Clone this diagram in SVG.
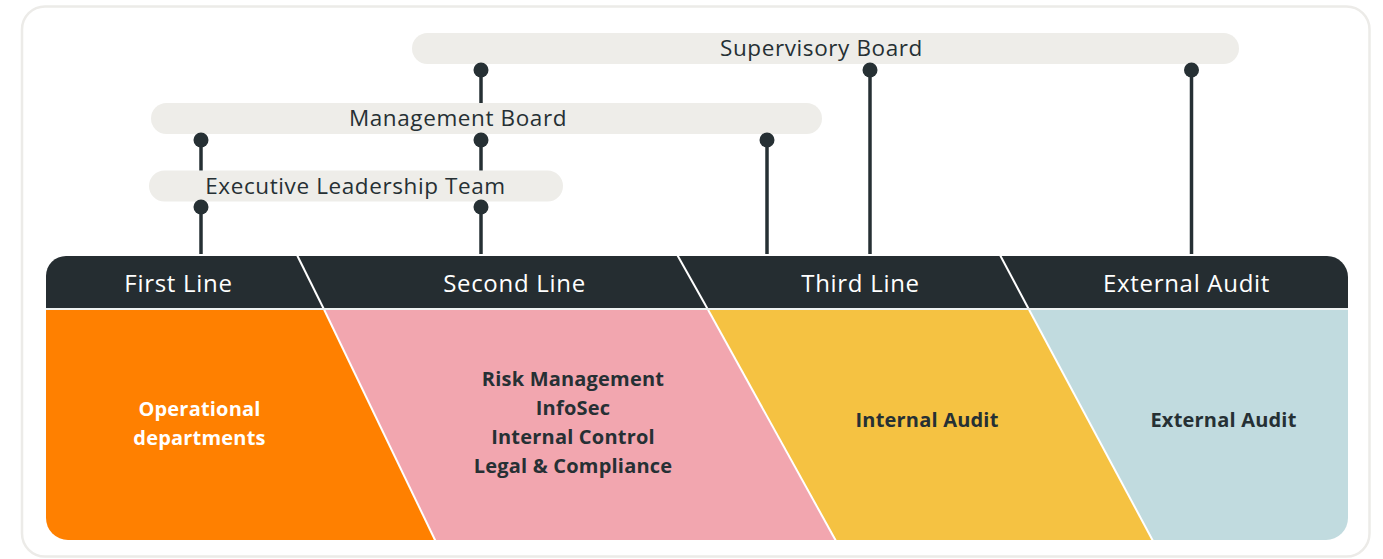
<svg xmlns="http://www.w3.org/2000/svg" width="1383" height="559" viewBox="0 0 1383 559">
<style>
.pill{fill:#eeede9}
.plbl{font-family:"Open Sans","Noto Sans",sans-serif;font-size:22.5px;letter-spacing:0.6px;fill:#263034;text-anchor:middle}
.hlbl{font-family:"Open Sans","Noto Sans",sans-serif;font-size:24px;letter-spacing:0.7px;fill:#ffffff;text-anchor:middle}
.blbl{font-family:"Open Sans","Noto Sans",sans-serif;font-size:20px;font-weight:700;letter-spacing:0.2px;fill:#263034;text-anchor:middle}
.sep{stroke:#ffffff;stroke-width:2;fill:none}
.conn{stroke:#263034;stroke-width:3.5;fill:none;marker-start:url(#dot)}
</style>
<defs>
<marker id="dot" viewBox="-8 -8 16 16" refX="0" refY="0" markerWidth="16" markerHeight="16" markerUnits="userSpaceOnUse" orient="auto">
<circle cx="0" cy="0" r="7.5" fill="#263034"/>
</marker>
<clipPath id="bodyClip">
<path d="M46,310 H1348 V518 A22,22 0 0 1 1326,540 H68 A22,22 0 0 1 46,518 Z"/>
</clipPath>
</defs>
<rect x="22" y="6.5" width="1347.5" height="550" rx="23" fill="#ffffff" stroke="#ecebe8" stroke-width="2.5"/>

<g id="supervisory-board">
<rect class="pill" x="412" y="33" width="827" height="31" rx="15.5"/>
<text class="plbl" x="821.5" y="56">Supervisory Board</text>
</g>
<g id="management-board">
<rect class="pill" x="151" y="103" width="671" height="31" rx="15.5"/>
<text class="plbl" x="458" y="126">Management Board</text>
</g>
<g id="executive-leadership-team">
<rect class="pill" x="149" y="170.5" width="414" height="31" rx="15.5"/>
<text class="plbl" x="355.5" y="193.5">Executive Leadership Team</text>
</g>

<g id="header">
<path d="M46,308 V276 A20,20 0 0 1 66,256 H1327 A21,21 0 0 1 1348,277 V308 Z" fill="#252d31"/>
<text class="hlbl" x="178.5" y="292">First Line</text>
<text class="hlbl" x="514.5" y="292">Second Line</text>
<text class="hlbl" x="860.5" y="292">Third Line</text>
<text class="hlbl" x="1186.5" y="292">External Audit</text>
</g>

<g id="body" clip-path="url(#bodyClip)">
<polygon points="0,310 324.3,310 435.5,540 0,540" fill="#ff8000"/>
<polygon points="324.3,310 708.2,310 836,540 435.5,540" fill="#f2a6af"/>
<polygon points="708.2,310 1029.2,310 1153,540 836,540" fill="#f5c242"/>
<polygon points="1029.2,310 1383,310 1383,540 1153,540" fill="#c1dbdf"/>
</g>

<g id="separators">
<line class="sep" x1="297" y1="255" x2="324.3" y2="310"/>
<line class="sep" x1="324.3" y1="310" x2="435.5" y2="541"/>
<line class="sep" x1="677.3" y1="255" x2="708.2" y2="310"/>
<line class="sep" x1="708.2" y1="310" x2="836" y2="541"/>
<line class="sep" x1="1000" y1="255" x2="1029.2" y2="310"/>
<line class="sep" x1="1029.2" y1="310" x2="1153" y2="541"/>
<line x1="46" y1="309" x2="1348" y2="309" stroke="#eef2f2" stroke-width="2"/>
</g>

<g id="first-line-body">
<text class="blbl" x="199.5" y="416" style="fill:#ffffff">Operational</text>
<text class="blbl" x="199.5" y="444.5" style="fill:#ffffff">departments</text>
</g>
<g id="second-line-body">
<text class="blbl" x="573" y="385.5">Risk Management</text>
<text class="blbl" x="573" y="414.5">InfoSec</text>
<text class="blbl" x="573" y="443.5">Internal Control</text>
<text class="blbl" x="573" y="472.5">Legal &amp; Compliance</text>
</g>
<g id="third-line-body">
<text class="blbl" x="927" y="426.5">Internal Audit</text>
</g>
<g id="external-audit-body">
<text class="blbl" x="1223.5" y="426.5">External Audit</text>
</g>

<g id="connectors">
<line class="conn" x1="481" y1="70" x2="481" y2="103"/>
<line class="conn" x1="201" y1="140" x2="201" y2="170.5"/>
<line class="conn" x1="481" y1="140" x2="481" y2="170.5"/>
<line class="conn" x1="767" y1="140" x2="767" y2="254"/>
<line class="conn" x1="870" y1="70" x2="870" y2="254"/>
<line class="conn" x1="1191.5" y1="70" x2="1191.5" y2="254"/>
<line class="conn" x1="201" y1="207" x2="201" y2="254"/>
<line class="conn" x1="481" y1="207" x2="481" y2="254"/>
</g>
</svg>
